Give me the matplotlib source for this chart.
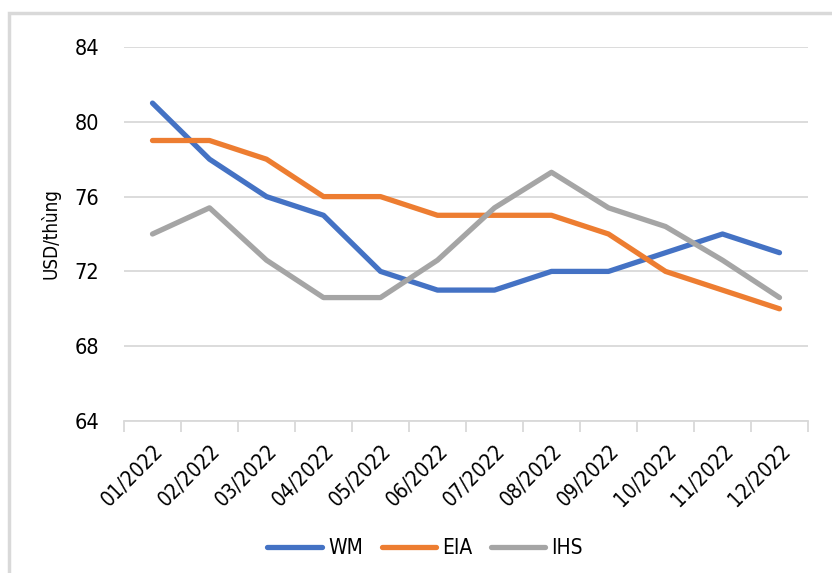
import matplotlib.pyplot as plt
from matplotlib.patches import Rectangle
from matplotlib.ticker import FixedLocator, NullFormatter

months = ['01/2022', '02/2022', '03/2022', '04/2022', '05/2022', '06/2022',
          '07/2022', '08/2022', '09/2022', '10/2022', '11/2022', '12/2022']
wm = [81, 78, 76, 75, 72, 71, 71, 72, 72, 73, 74, 73]
eia = [79, 79, 78, 76, 76, 75, 75, 75, 74, 72, 71, 70]
ihs = [74.0, 75.4, 72.6, 70.6, 70.6, 72.6, 75.4, 77.3, 75.4, 74.4, 72.6, 70.6]
y_ticks = [64, 68, 72, 76, 80, 84]

plt.rcParams['font.family'] = ['DejaVu Sans']
plt.rcParams['font.stretch'] = 'condensed'

fig = plt.figure(figsize=(8.32, 5.73), dpi=100)
ax = fig.add_axes([124 / 832, 1 - 421 / 573, 684 / 832, 374 / 573])

# outer chart border (cut off on the right and bottom like the source)
fig.patches.append(Rectangle((9 / 832, -0.2), 1.2, 1.2 - 13 / 573,
                             transform=fig.transFigure, fill=False,
                             edgecolor='#d9d9d9', linewidth=2.5))

x = list(range(len(months)))
ax.plot(x, wm, color='#4472C4', lw=3.8, solid_capstyle='round', label='WM')
ax.plot(x, eia, color='#ED7D31', lw=3.8, solid_capstyle='round', label='EIA')
ax.plot(x, ihs, color='#A5A5A5', lw=3.8, solid_capstyle='round', label='IHS')

ax.set_xlim(-0.5, len(months) - 0.5)
ax.set_ylim(64, 84)
ax.set_yticks(y_ticks)
ax.tick_params(axis='y', length=0, labelsize=15.5, pad=18)
ax.grid(axis='y', color='#d9d9d9', lw=1.3)
ax.set_axisbelow(True)

ax.set_xticks(x)
ax.set_xticklabels(months, rotation=45, ha='right', rotation_mode='anchor', fontsize=15)
ax.tick_params(axis='x', which='major', length=0, pad=14)
ax.xaxis.set_minor_locator(FixedLocator([i - 0.5 for i in range(len(months) + 1)]))
ax.xaxis.set_minor_formatter(NullFormatter())
ax.tick_params(axis='x', which='minor', length=8, width=1.3, color='#d9d9d9')

for s in ['top', 'right', 'left']:
    ax.spines[s].set_visible(False)
ax.spines['bottom'].set_color('#d9d9d9')
ax.spines['bottom'].set_linewidth(1.3)

ax.set_ylabel('USD/thùng', fontsize=13.5, labelpad=10)

fig.legend(loc='center', bbox_to_anchor=(0.511, 1 - 548 / 573), ncol=3, frameon=False,
           fontsize=15, handlelength=2.6, columnspacing=0.9, handletextpad=0.3)

fig.savefig('out.png', dpi=100)
